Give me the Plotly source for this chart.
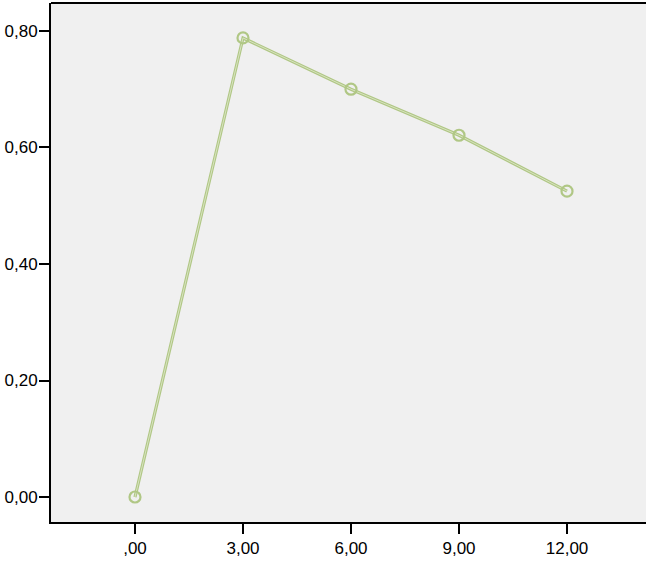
import plotly.graph_objects as go

x_vals = [0, 3, 6, 9, 12]
y_vals = [0.0, 0.788, 0.700, 0.621, 0.525]
x_ticks = [0, 3, 6, 9, 12]
x_tick_labels = [",00", "3,00", "6,00", "9,00", "12,00"]
y_ticks = [0, 0.2, 0.4, 0.6, 0.8]
y_tick_labels = ["0,00", "0,20", "0,40", "0,60", "0,80"]

fig = go.Figure()
fig.add_trace(go.Scatter(
    x=x_vals, y=y_vals, mode="lines",
    line=dict(color="#B0C785", width=3.2), hoverinfo="skip", showlegend=False))
fig.add_trace(go.Scatter(
    x=x_vals, y=y_vals, mode="lines+markers",
    line=dict(color="#D8E3C0", width=1),
    marker=dict(symbol="circle-open", size=11, color="#B0C785", line=dict(width=2.2)),
    showlegend=False))

fig.update_layout(
    width=646, height=561,
    margin=dict(l=51, r=0, t=3, b=39),
    paper_bgcolor="white", plot_bgcolor="#F0F0F0",
    font=dict(family="Liberation Sans, Arial, sans-serif", size=17, color="black"),
    xaxis=dict(range=[-2.333, 14.194], tickvals=x_ticks, ticktext=x_tick_labels,
               showgrid=False, zeroline=False, showline=True, linecolor="black",
               linewidth=2, ticks="outside", ticklen=10, tickwidth=2, tickcolor="black",
               ticklabelstandoff=0),
    yaxis=dict(range=[-0.0429, 0.848], tickvals=y_ticks, ticktext=y_tick_labels,
               showgrid=False, zeroline=False, showline=True, linecolor="black",
               linewidth=2, ticks="outside", ticklen=10, tickwidth=2, tickcolor="black",
               ticklabelstandoff=-2),
    shapes=[dict(type="line", xref="paper", yref="paper", x0=0, x1=1, y0=1, y1=1,
                 line=dict(color="black", width=2))],
)
fig.write_html("out.html", config={"displayModeBar": False},
               post_script="document.body.style.margin='0';document.body.style.overflow='hidden';")
